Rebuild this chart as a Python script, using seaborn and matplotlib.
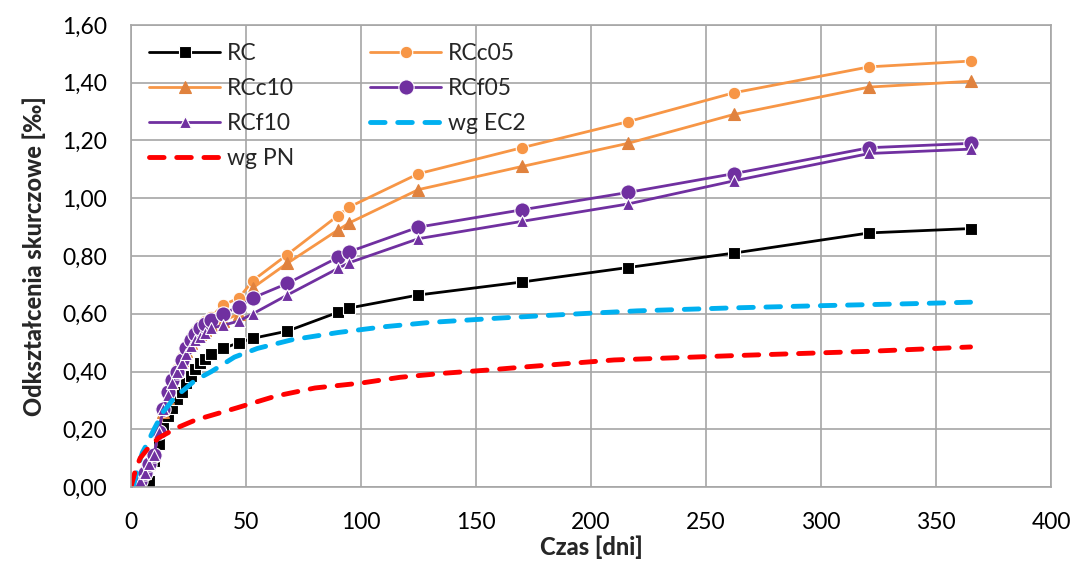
import numpy as np
import pandas as pd
import matplotlib
matplotlib.use("Agg")
import matplotlib.pyplot as plt
from matplotlib.ticker import FuncFormatter, MultipleLocator
import seaborn as sns

# measurement days (same for all specimens)
days = [0, 2, 4, 6, 8, 10, 12, 14, 16, 18, 20, 22, 24, 26, 28, 30, 32, 35,
        40, 47, 53, 68, 90, 95, 125, 170, 216, 262, 321, 365]

rc = [0, 0, 0, 0, 0.02, 0.09, 0.15, 0.21, 0.245, 0.275, 0.305, 0.33, 0.36, 0.385,
      0.41, 0.43, 0.445, 0.46, 0.48, 0.50, 0.515, 0.54, 0.605, 0.62, 0.665, 0.71,
      0.76, 0.81, 0.88, 0.895]
rcc05 = [0, 0, 0.02, 0.05, 0.08, 0.11, 0.19, 0.27, 0.32, 0.37, 0.41, 0.45, 0.49, 0.52,
         0.54, 0.56, 0.575, 0.59, 0.63, 0.655, 0.715, 0.805, 0.94, 0.97, 1.085, 1.175,
         1.265, 1.365, 1.455, 1.475]
rcc10 = [0, 0, 0.02, 0.05, 0.08, 0.11, 0.19, 0.26, 0.31, 0.36, 0.40, 0.44, 0.47, 0.50,
         0.52, 0.53, 0.545, 0.56, 0.575, 0.60, 0.69, 0.775, 0.89, 0.915, 1.03, 1.11,
         1.19, 1.29, 1.385, 1.405]
rcf05 = [0, 0, 0.02, 0.05, 0.08, 0.11, 0.19, 0.27, 0.33, 0.37, 0.40, 0.44, 0.48, 0.51,
         0.53, 0.55, 0.565, 0.58, 0.60, 0.625, 0.655, 0.705, 0.795, 0.815, 0.90, 0.96,
         1.02, 1.085, 1.175, 1.19]
rcf10 = [0, 0, 0.02, 0.05, 0.08, 0.11, 0.19, 0.27, 0.32, 0.36, 0.40, 0.43, 0.46, 0.49,
         0.51, 0.52, 0.535, 0.55, 0.56, 0.575, 0.60, 0.665, 0.757, 0.777, 0.86, 0.92,
         0.98, 1.06, 1.155, 1.17]

# model curves
ec2_days = [1, 3, 5, 7, 10, 14, 18, 22, 28, 35, 45, 55, 70, 90, 110, 130, 160, 190,
            220, 260, 300, 340, 365]
ec2 = [0.0, 0.07, 0.12, 0.15, 0.20, 0.26, 0.30, 0.33, 0.37, 0.40, 0.45, 0.48, 0.51,
       0.535, 0.555, 0.57, 0.585, 0.598, 0.61, 0.62, 0.628, 0.635, 0.64]
pn_days = [0, 1, 2, 4, 8, 12, 20, 28, 46, 63, 80, 100, 117, 136, 155, 173, 210, 262,
           321, 365]
pn = [0.0, 0.03, 0.06, 0.10, 0.14, 0.17, 0.205, 0.232, 0.274, 0.315, 0.343, 0.36, 0.38,
      0.394, 0.405, 0.417, 0.44, 0.455, 0.47, 0.485]

sns.set_theme(style="whitegrid")
plt.rcParams['font.family'] = ['Lato', 'DejaVu Sans']

fig, ax = plt.subplots(figsize=(10.77, 5.65), dpi=100)
fig.subplots_adjust(left=0.1216, right=0.9759, top=0.9558, bottom=0.138)

series = [
    ("RC", rc, dict(color="black", marker="s", markersize=9, lw=2)),
    ("RCc05", rcc05, dict(color="#F79646", marker="o", markersize=9, lw=2)),
    ("RCc10", rcc10, dict(color="#F79646", marker="^", markersize=9, lw=2,
                          markerfacecolor="#E0823E", markeredgecolor="#E0823E")),
    ("RCf05", rcf05, dict(color="#7030A0", marker="o", markersize=11, lw=2)),
    ("RCf10", rcf10, dict(color="#7030A0", marker="^", markersize=9, lw=2)),
]
lines = {}
for name, vals, kw in series:
    sns.lineplot(x=days, y=vals, ax=ax, sort=False, label=name, **kw)
    lines[name] = ax.lines[-1]

sns.lineplot(x=ec2_days, y=ec2, ax=ax, sort=False, label="wg EC2", color="#00B0F0",
             lw=3.5, linestyle=(0, (3.0, 2.6)), dash_capstyle="round")
lines["wg EC2"] = ax.lines[-1]
sns.lineplot(x=pn_days, y=pn, ax=ax, sort=False, label="wg PN", color="#FF0000",
             lw=3.5, linestyle=(0, (3.0, 2.6)), dash_capstyle="round")
lines["wg PN"] = ax.lines[-1]

for name, vals, kw in series:
    lines[name].set_markeredgewidth(0.8)

ax.set_xlim(0, 400)
ax.set_ylim(0, 1.6)
ax.xaxis.set_major_locator(MultipleLocator(50))
ax.yaxis.set_major_locator(MultipleLocator(0.2))
ax.yaxis.set_major_formatter(FuncFormatter(lambda v, p: f"{v:.2f}".replace(".", ",")))
ax.grid(True, color="#A6A6A6", lw=1.2)
for s in ax.spines.values():
    s.set_color("#A6A6A6")
    s.set_linewidth(1.2)
ax.tick_params(axis="both", labelsize=16.5, length=0, colors="black")
ax.tick_params(axis="y", pad=17)
ax.tick_params(axis="x", pad=18)

ax.set_xlabel("Czas [dni]", fontsize=17, fontweight=900, labelpad=2)
ax.set_ylabel("Odkształcenia skurczowe [‰]", fontsize=17, fontweight=900, labelpad=12)

order = ["RC", "RCc10", "RCf10", "wg PN", "RCc05", "RCf05", "wg EC2"]
ax.legend([lines[n] for n in order], order, ncol=2, loc="upper left",
          bbox_to_anchor=(0.0, 1.0), frameon=False, fontsize=16.5, handlelength=3.1,
          columnspacing=3.3, labelspacing=0.6, handletextpad=0.3, borderaxespad=0.4,
          borderpad=0.4)

plt.savefig("out.png", dpi=100)
